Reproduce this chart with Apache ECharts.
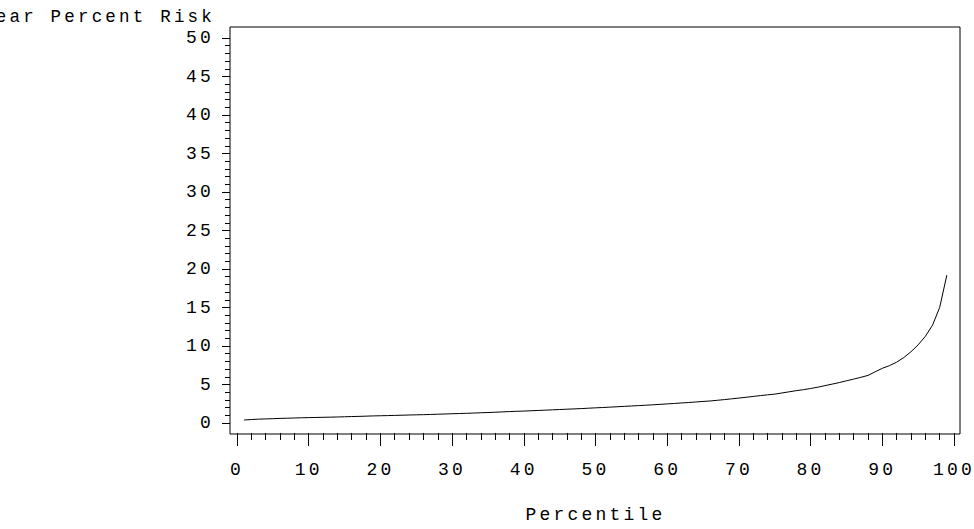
<!DOCTYPE html>
<html>
<head>
<meta charset="utf-8">
<title>Percent Risk by Percentile</title>
<script src="https://cdn.jsdelivr.net/npm/echarts@6/dist/echarts.min.js"></script>
<style>
  html, body { margin: 0; padding: 0; background: #fff; }
  #chart { width: 974px; height: 529px; }
  /* typewriter-style spacing for every label */
  #chart text { letter-spacing: 3.2px; }
</style>
</head>
<body>
<div id="chart"></div>
<script>
// Percentile (1..99) and the risk value at each percentile
const percentiles = [
  1, 2, 3, 4, 5, 6, 7, 8, 9, 10,
  11, 12, 13, 14, 15, 16, 17, 18, 19, 20,
  21, 22, 23, 24, 25, 26, 27, 28, 29, 30,
  31, 32, 33, 34, 35, 36, 37, 38, 39, 40,
  41, 42, 43, 44, 45, 46, 47, 48, 49, 50,
  51, 52, 53, 54, 55, 56, 57, 58, 59, 60,
  61, 62, 63, 64, 65, 66, 67, 68, 69, 70,
  71, 72, 73, 74, 75, 76, 77, 78, 79, 80,
  81, 82, 83, 84, 85, 86, 87, 88, 89, 90,
  91, 92, 93, 94, 95, 96, 97, 98, 99
];
const riskPercent = [
  0.39, 0.45, 0.50, 0.53, 0.56, 0.60, 0.62, 0.65, 0.68, 0.70,
  0.72, 0.74, 0.76, 0.78, 0.81, 0.84, 0.86, 0.89, 0.92, 0.94,
  0.96, 0.99, 1.01, 1.04, 1.06, 1.08, 1.11, 1.14, 1.17, 1.20,
  1.23, 1.26, 1.29, 1.33, 1.36, 1.40, 1.44, 1.48, 1.52, 1.55,
  1.59, 1.63, 1.67, 1.71, 1.75, 1.79, 1.83, 1.87, 1.92, 1.97,
  2.01, 2.06, 2.11, 2.16, 2.21, 2.26, 2.31, 2.36, 2.42, 2.48,
  2.54, 2.60, 2.66, 2.73, 2.80, 2.86, 2.95, 3.04, 3.14, 3.24,
  3.34, 3.45, 3.56, 3.66, 3.75, 3.90, 4.05, 4.20, 4.33, 4.48,
  4.65, 4.85, 5.05, 5.25, 5.48, 5.70, 5.93, 6.18, 6.65, 7.10,
  7.45, 7.90, 8.50, 9.25, 10.15, 11.25, 12.70, 15.00, 19.20
];

// Axis scales and labels
const xAxisRange = { min: 0, max: 100, step: 10 };
const yAxisRange = { min: 0, max: 50, step: 5 };
const yAxisTitle = '10-Year Percent Risk';
const xAxisTitle = 'Percentile';

const FONT = 'Liberation Mono, monospace';
const INK = '#000';
const LABEL = { fontFamily: FONT, fontSize: 18, color: INK };

const hiddenX = (gridIndex) => ({
  gridIndex, type: 'value', show: false,
  min: xAxisRange.min, max: xAxisRange.max
});
const hiddenY = (gridIndex) => ({
  gridIndex, type: 'value', show: false,
  min: yAxisRange.min, max: yAxisRange.max
});

const chart = echarts.init(document.getElementById('chart'), null, { renderer: 'svg' });

chart.setOption({
  backgroundColor: '#fff',
  animation: false,
  textStyle: { fontFamily: FONT, color: INK },
  grid: [
    // 0: frame around the plotting area
    { left: 230, right: 14, top: 27, bottom: 95, show: true,
      borderColor: INK, borderWidth: 1, backgroundColor: 'transparent' },
    // 1: data area (0..100 by 0..50)
    { left: 237, right: 20, top: 38, bottom: 106 },
    // 2: horizontal scale, sitting on the frame's bottom edge
    { left: 237, right: 20, top: 38, bottom: 95 },
    // 3: vertical scale, sitting on the frame's left edge
    { left: 230, right: 20, top: 38, bottom: 106 }
  ],
  xAxis: [
    { gridIndex: 0, type: 'value', show: false, min: 0, max: 1 },
    hiddenX(1),
    {
      gridIndex: 2, type: 'value',
      min: xAxisRange.min, max: xAxisRange.max, interval: xAxisRange.step,
      name: xAxisTitle, nameLocation: 'middle', nameGap: 73,
      nameTextStyle: LABEL,
      axisLine: { show: false },
      axisTick: { show: true, inside: false, length: 13, lineStyle: { color: INK, width: 1 } },
      minorTick: { show: true, splitNumber: 5, length: 7, lineStyle: { color: INK, width: 1 } },
      splitLine: { show: false },
      minorSplitLine: { show: false },
      axisLabel: Object.assign({ margin: 28 }, LABEL)
    },
    hiddenX(3)
  ],
  yAxis: [
    { gridIndex: 0, type: 'value', show: false, min: 0, max: 1 },
    hiddenY(1),
    hiddenY(2),
    {
      gridIndex: 3, type: 'value',
      min: yAxisRange.min, max: yAxisRange.max, interval: yAxisRange.step,
      axisLine: { show: false },
      axisTick: { show: true, inside: false, length: 8, lineStyle: { color: INK, width: 1 } },
      minorTick: { show: true, splitNumber: 5, length: 5, lineStyle: { color: INK, width: 1 } },
      splitLine: { show: false },
      minorSplitLine: { show: false },
      axisLabel: Object.assign({ margin: 16 }, LABEL)
    }
  ],
  graphic: [
    {
      type: 'text',
      x: 215, y: 17,
      style: {
        text: yAxisTitle, fontFamily: FONT, fontSize: 17.5, fill: INK,
        textAlign: 'right', textVerticalAlign: 'middle'
      }
    }
  ],
  series: [
    {
      type: 'line',
      xAxisIndex: 1, yAxisIndex: 1,
      data: percentiles.map((p, i) => [p, riskPercent[i]]),
      showSymbol: false,
      symbol: 'none',
      lineStyle: { color: INK, width: 1 },
      silent: true
    }
  ]
});
</script>
</body>
</html>
